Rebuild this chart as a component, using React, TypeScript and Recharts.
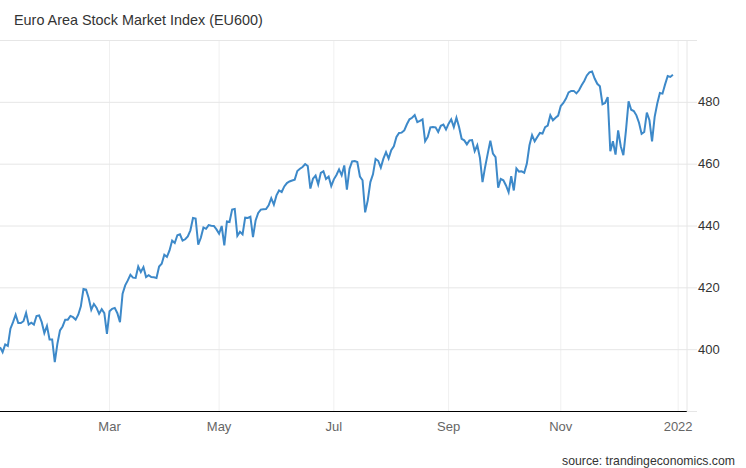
import { CartesianGrid, Line, LineChart, XAxis, YAxis } from "recharts";

const values = [
  400.8, 399.2, 401.7, 401.2, 406.8, 408.9, 411.3, 408.6, 408.6, 409.2, 411.9, 408.1, 408.7, 408.1, 410.9, 411.1,
  408.9, 405.4, 407.7, 403.3, 403.3, 396.0, 401.9, 406.2, 407.5, 409.7, 409.7, 410.9, 410.5, 409.7, 411.3, 414.0,
  419.6, 419.4, 416.7, 412.9, 414.8, 413.6, 411.6, 413.1, 411.8, 405.1, 412.4, 413.2, 413.5, 411.8, 408.9, 418.1,
  420.8, 422.4, 424.2, 423.3, 423.2, 426.9, 425.1, 426.7, 423.5, 424.1, 423.5, 423.4, 423.2, 426.9, 427.8, 430.7,
  430.0, 432.1, 435.3, 434.5, 437.0, 437.3, 435.3, 435.7, 436.6, 438.6, 442.6, 442.4, 434.0, 436.2, 439.5, 439.1,
  440.3, 440.1, 440.0, 438.9, 437.5, 440.0, 433.7, 441.5, 441.3, 445.3, 445.5, 436.8, 438.1, 437.3, 442.7, 442.6,
  443.0, 436.4, 441.8, 444.2, 445.3, 445.4, 445.5, 446.7, 449.0, 446.9, 449.9, 451.5, 451.0, 452.8, 453.9, 454.4,
  454.7, 455.0, 457.8, 458.5, 459.1, 460.0, 459.4, 452.1, 455.3, 456.3, 453.5, 457.2, 457.7, 455.2, 456.0, 452.9,
  455.1, 456.5, 458.3, 456.4, 459.6, 451.8, 458.5, 460.9, 461.0, 460.7, 456.0, 454.8, 444.4, 448.3, 454.2, 456.7,
  461.7, 461.1, 458.9, 461.8, 463.9, 461.8, 464.5, 465.8, 468.8, 470.1, 470.2, 470.9, 472.9, 474.5, 475.0, 475.9,
  473.6, 474.0, 474.5, 467.4, 468.8, 471.9, 472.0, 471.9, 470.4, 472.4, 472.8, 471.2, 473.1, 474.5, 472.0, 475.0,
  472.0, 468.2, 467.7, 466.4, 467.7, 467.8, 464.2, 466.1, 462.1, 454.2, 459.1, 463.4, 467.6, 463.4, 462.3, 452.4,
  455.2, 454.8, 453.1, 450.9, 456.1, 451.5, 458.6, 457.6, 457.7, 457.2, 460.2, 466.1, 469.4, 467.4, 468.8, 470.1,
  469.9, 472.0, 472.5, 475.8, 474.2, 475.0, 475.7, 478.8, 479.8, 481.2, 483.2, 483.7, 483.7, 482.9, 483.9, 485.5,
  486.9, 488.7, 489.7, 490.0, 487.7, 486.0, 485.2, 479.4, 479.8, 481.7, 464.2, 467.4, 463.1, 470.9, 465.8, 462.9,
  470.9, 480.3, 477.6, 477.2, 475.8, 473.4, 469.8, 470.4, 476.7, 474.2, 467.4, 475.3, 479.6, 483.0, 482.8, 485.8,
  488.5, 488.2, 488.9,
];
const monthTicks = [42, 84, 128, 172, 215, 260];
const monthLabels = ["Mar", "May", "Jul", "Sep", "Nov", "2022"];
const priceTicks = [380, 400, 420, 440, 460, 480, 500];
const hiddenPrices = [380, 500];

const data = values.map((v, i) => ({ day: i, price: v }));

const GRID = "#e6e6e6";
const GRID_LIGHT = "#f0f0f0";
const LABEL = "#666666";
const FONT = "'Liberation Sans', Arial, sans-serif";

function PriceTick({ x, y, payload }: any) {
  if (hiddenPrices.includes(payload.value)) return null;
  return (
    <text x={x - 1} y={y + 4} fontSize={13} fill="#333" fontFamily={FONT}>
      {payload.value}
    </text>
  );
}

export default function App() {
  return (
    <div style={{ position: "absolute", left: 0, top: 0, width: 746, height: 468, background: "#fff", fontFamily: FONT }}>
      <div style={{ position: "absolute", left: 14, top: 12, fontSize: 14.4, color: "#333", whiteSpace: "nowrap" }}>
        Euro Area Stock Market Index (EU600)
      </div>
      <LineChart width={746} height={468} data={data} margin={{ top: 40.5, right: 0, bottom: 0, left: 0 }}>
        <CartesianGrid stroke={GRID_LIGHT} horizontal={false} syncWithTicks />
        <CartesianGrid stroke={GRID} vertical={false} />
        <XAxis
          dataKey="day"
          type="number"
          domain={[0, 263.4]}
          ticks={monthTicks}
          tickFormatter={(d) => monthLabels[monthTicks.indexOf(d)]}
          tick={{ fontSize: 13, fill: LABEL, fontFamily: FONT }}
          tickLine={false}
          tickMargin={4}
          axisLine={{ stroke: "#000" }}
          height={56.5}
          interval={0}
        />
        <YAxis
          orientation="right"
          domain={[380, 500]}
          ticks={priceTicks}
          tick={<PriceTick />}
          tickLine={{ stroke: GRID }}
          tickSize={10}
          axisLine={{ stroke: GRID }}
          width={59}
          interval={0}
        />
        <Line
          dataKey="price"
          type="linear"
          stroke="#3d89c9"
          strokeWidth={2}
          dot={false}
          isAnimationActive={false}
        />
      </LineChart>
      <div style={{ position: "absolute", right: 11, top: 454, fontSize: 12.25, color: "#333", whiteSpace: "nowrap" }}>
        source: trandingeconomics.com
      </div>
    </div>
  );
}
